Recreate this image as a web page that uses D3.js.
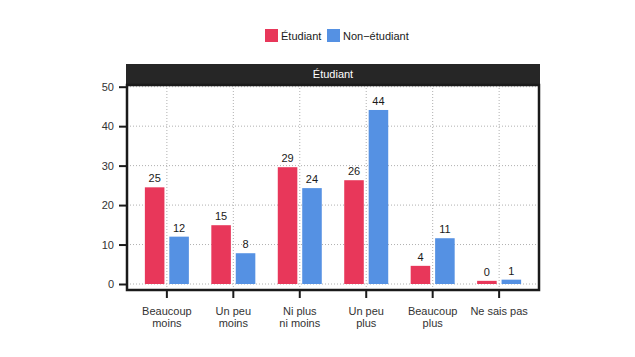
<!DOCTYPE html>
<html><head><meta charset="utf-8">
<script src="https://cdn.jsdelivr.net/npm/d3@7"></script>
<style>body{margin:0;background:#fff}svg{display:block;font-family:"Liberation Sans",Arial,sans-serif}</style>
</head><body><svg id="c" width="635" height="357"></svg>
<script>
const categories = ["Beaucoup\nmoins","Un peu\nmoins","Ni plus\nni moins","Un peu\nplus","Beaucoup\nplus","Ne sais pas"];
const seriesNames = ["Étudiant","Non−étudiant"];
const etudiant = [24.5, 14.9, 29.6, 26.3, 4.6, 0.8];
const nonEtudiant = [12.0, 7.8, 24.3, 44.1, 11.6, 1.1];
const etudiantLabels = ["25","15","29","26","4","0"];
const nonEtudiantLabels = ["12","8","24","44","11","1"];
const yTicks = [0,10,20,30,40,50];
const panelTitle = "Étudiant";
const colors = ["#E8375A","#5591E3"];

const svg = d3.select("#c");
const pL = 127, pR = 539, pT = 85, pB = 290;
const x = d3.scaleBand().domain(categories).range([pL, pR]).paddingOuter(0.1).paddingInner(0);
const y = d3.scaleLinear().domain([0,50]).range([284, 86.7]);
const sub = d3.scaleBand().domain([0,1]).range([-22, 22]).paddingInner(0.2);

// strip
svg.append("rect").attr("x", pL-1).attr("y", 64).attr("width", pR-pL+2).attr("height", pT-64).attr("fill","#262626");
svg.append("text").attr("x",(pL+pR)/2).attr("y",78).attr("text-anchor","middle").attr("fill","#fff")
  .attr("font-size",11).text(panelTitle);

// gridlines
const g = svg.append("g");
g.selectAll("line.h").data(yTicks).join("line").attr("x1",pL).attr("x2",pR)
  .attr("y1",d=>y(d)).attr("y2",d=>y(d)).attr("stroke","#b0b0b0").attr("stroke-width",1).attr("stroke-dasharray","1,2");
g.selectAll("line.v").data(categories).join("line").attr("class","v")
  .attr("x1",d=>x(d)+x.bandwidth()/2).attr("x2",d=>x(d)+x.bandwidth()/2)
  .attr("y1",pT).attr("y2",pB).attr("stroke","#b0b0b0").attr("stroke-width",1).attr("stroke-dasharray","1,2");

// bars
const series = [etudiant, nonEtudiant];
const labels = [etudiantLabels, nonEtudiantLabels];
series.forEach((vals, si) => {
  const gg = svg.append("g");
  gg.selectAll("rect").data(vals).join("rect")
    .attr("x",(d,i)=>x(categories[i])+x.bandwidth()/2+sub(si))
    .attr("width",sub.bandwidth())
    .attr("y",d=>y(d)).attr("height",d=>y(0)-y(d)).attr("fill",colors[si]);
  gg.selectAll("text").data(vals).join("text")
    .attr("x",(d,i)=>x(categories[i])+x.bandwidth()/2+sub(si)+sub.bandwidth()/2)
    .attr("y",d=>y(d)-5).attr("text-anchor","middle").attr("font-size",11).attr("fill","#1a1a1a")
    .text((d,i)=>labels[si][i]);
});

// border
svg.append("rect").attr("x",pL).attr("y",pT).attr("width",pR-pL).attr("height",pB-pT)
  .attr("fill","none").attr("stroke","#1a1a1a").attr("stroke-width",2.5);

// y axis
const ya = svg.append("g").attr("transform",`translate(${pL-1},0)`)
  .call(d3.axisLeft(y).tickValues(yTicks).tickSize(7).tickPadding(5));
ya.select(".domain").remove();
ya.selectAll("line").attr("stroke","#1a1a1a").attr("stroke-width",2);
ya.selectAll("text").attr("font-size",11).attr("fill","#333").attr("font-family","Liberation Sans, Arial, sans-serif");

// x axis
const xa = svg.append("g").attr("transform",`translate(0,${pB+1})`)
  .call(d3.axisBottom(x).tickSize(7).tickFormat(""));
xa.select(".domain").remove();
xa.selectAll("line").attr("stroke","#1a1a1a").attr("stroke-width",2);
categories.forEach(c => {
  const lines = c.split("\n");
  const t = svg.append("text").attr("x",x(c)+x.bandwidth()/2).attr("y",315)
    .attr("text-anchor","middle").attr("font-size",11).attr("fill","#333");
  lines.forEach((l,i)=>t.append("tspan").attr("x",x(c)+x.bandwidth()/2).attr("dy",i?12:0).text(l));
});

// legend
const lg = svg.append("g");
const lx = [265, 327];
seriesNames.forEach((n,i)=>{
  lg.append("rect").attr("x",lx[i]).attr("y",29).attr("width",13).attr("height",13).attr("fill",colors[i]);
  lg.append("text").attr("x",lx[i]+16).attr("y",40).attr("font-size",11).attr("fill","#1a1a1a").text(n);
});
</script></body></html>
